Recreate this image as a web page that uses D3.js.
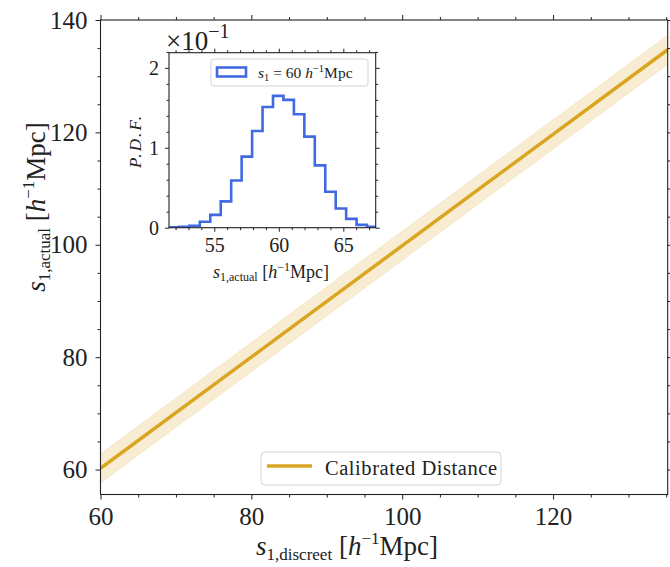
<!DOCTYPE html>
<html>
<head>
<meta charset="utf-8">
<script src="https://cdn.jsdelivr.net/npm/d3@7"></script>
<style>
  body { margin: 0; background: #fff; }
  text { font-family: "Liberation Serif", "DejaVu Serif", serif; fill: #222; }
</style>
</head>
<body>
<div id="chart"></div>
<script>
// ---- data ----
var calX = [60, 136];
var calY = [60.2, 135.5];
var calLo = [57.6, 132.9];
var calHi = [62.8, 138.1];

var histEdges = [51.45, 52.26, 53.07, 53.88, 54.69, 55.50, 56.31, 57.12, 57.93, 58.74, 59.55,
                 60.36, 61.17, 61.98, 62.79, 63.60, 64.41, 65.22, 66.03, 66.84, 67.65];
var histPdf = [0.005, 0.012, 0.025, 0.075, 0.16, 0.33, 0.59, 0.89, 1.21, 1.51,
               1.65, 1.60, 1.42, 1.14, 0.78, 0.45, 0.24, 0.11, 0.035, 0.01];

var mainXTicks = [60, 80, 100, 120];
var mainXMinor = [65, 70, 75, 85, 90, 95, 105, 110, 115, 125, 130, 135];
var mainYTicks = [60, 80, 100, 120, 140];
var mainYMinor = [65, 70, 75, 85, 90, 95, 105, 110, 115, 125, 130, 135];
var insetXTicks = [55, 60, 65];
var insetXMinor = [52, 53, 54, 56, 57, 58, 59, 61, 62, 63, 64, 66, 67];
var insetYTicks = [0, 1, 2];
var insetYMinor = [0.2, 0.4, 0.6, 0.8, 1.2, 1.4, 1.6, 1.8, 2.2];

var width = 670, height = 567;
var gold = "#DAA520", blue = "#4169E1";

var svg = d3.select("#chart").append("svg")
  .attr("width", width).attr("height", height);

// main axes box
var box = { left: 100.5, right: 667.7, top: 20, bottom: 494.5 };

var x = d3.scaleLinear().domain([60, 135.2]).range([box.left, box.right]);
var y = d3.scaleLinear().domain([55.56, 140]).range([box.bottom, box.top]);

svg.append("clipPath").attr("id", "mainClip")
  .append("rect")
  .attr("x", box.left).attr("y", box.top)
  .attr("width", box.right - box.left).attr("height", box.bottom - box.top);

var plot = svg.append("g").attr("clip-path", "url(#mainClip)");

var calData = calX.map(function (d, i) {
  return { x: d, y: calY[i], lo: calLo[i], hi: calHi[i] };
});

// uncertainty band
plot.append("path")
  .datum(calData)
  .attr("d", d3.area()
    .x(function (d) { return x(d.x); })
    .y0(function (d) { return y(d.lo); })
    .y1(function (d) { return y(d.hi); }))
  .attr("fill", gold).attr("fill-opacity", 0.2)
  .attr("stroke", gold).attr("stroke-opacity", 0.15);

// calibrated line
plot.append("path")
  .datum(calData)
  .attr("d", d3.line()
    .x(function (d) { return x(d.x); })
    .y(function (d) { return y(d.y); }))
  .attr("fill", "none").attr("stroke", gold).attr("stroke-width", 3.5);

// axes with outward ticks on all four sides
function drawAxes(g, xs, ys, b, xt, xm, yt, ym, opt) {
  g.append("g").attr("transform", "translate(0," + b.bottom + ")")
    .call(d3.axisBottom(xs).tickValues(xt).tickSize(opt.major).tickSizeOuter(0)
      .tickPadding(opt.padX).tickFormat(d3.format("d")))
    .call(styleAxis, opt.font);
  g.append("g").attr("transform", "translate(0," + b.bottom + ")")
    .call(d3.axisBottom(xs).tickValues(xm).tickSize(opt.minor).tickFormat(""))
    .call(styleAxis, opt.font);
  g.append("g").attr("transform", "translate(0," + b.top + ")")
    .call(d3.axisTop(xs).tickValues(xt).tickSize(opt.major).tickFormat(""))
    .call(styleAxis, opt.font);
  g.append("g").attr("transform", "translate(0," + b.top + ")")
    .call(d3.axisTop(xs).tickValues(xm).tickSize(opt.minor).tickFormat(""))
    .call(styleAxis, opt.font);
  g.append("g").attr("transform", "translate(" + b.left + ",0)")
    .call(d3.axisLeft(ys).tickValues(yt).tickSize(opt.major).tickSizeOuter(0)
      .tickPadding(opt.padY).tickFormat(d3.format("d")))
    .call(styleAxis, opt.font);
  g.append("g").attr("transform", "translate(" + b.left + ",0)")
    .call(d3.axisLeft(ys).tickValues(ym).tickSize(opt.minor).tickFormat(""))
    .call(styleAxis, opt.font);
  g.append("g").attr("transform", "translate(" + b.right + ",0)")
    .call(d3.axisRight(ys).tickValues(yt).tickSize(opt.major).tickFormat(""))
    .call(styleAxis, opt.font);
  g.append("g").attr("transform", "translate(" + b.right + ",0)")
    .call(d3.axisRight(ys).tickValues(ym).tickSize(opt.minor).tickFormat(""))
    .call(styleAxis, opt.font);
  g.append("rect")
    .attr("x", b.left).attr("y", b.top)
    .attr("width", b.right - b.left).attr("height", b.bottom - b.top)
    .attr("fill", "none").attr("stroke", "#222").attr("stroke-width", 1.1);
}

function styleAxis(sel, font) {
  sel.select(".domain").remove();
  sel.selectAll(".tick line").attr("stroke", "#222").attr("stroke-width", 1);
  sel.selectAll(".tick text")
    .attr("font-size", font)
    .style("font-family", "'Liberation Serif', serif")
    .attr("fill", "#222");
}

drawAxes(svg, x, y, box, mainXTicks, mainXMinor, mainYTicks, mainYMinor,
  { major: 5, minor: 3, padX: 8, padY: 8, font: 25 });

// main legend
var leg = svg.append("g");
leg.append("rect")
  .attr("x", 261).attr("y", 452).attr("width", 240).attr("height", 33)
  .attr("rx", 4).attr("fill", "#fff").attr("fill-opacity", 0.85)
  .attr("stroke", "#d4d4d4");
leg.append("line")
  .attr("x1", 267).attr("x2", 312).attr("y1", 466).attr("y2", 466)
  .attr("stroke", gold).attr("stroke-width", 3.5);
leg.append("text")
  .attr("x", 325).attr("y", 474.5)
  .attr("font-size", 20.5)
  .attr("textLength", 172).attr("lengthAdjust", "spacing")
  .text("Calibrated Distance");

// main axis labels
var xl = svg.append("text")
  .attr("x", 347).attr("y", 555)
  .attr("text-anchor", "middle").attr("font-size", 27);
xl.append("tspan").attr("font-style", "italic").text("s");
xl.append("tspan").attr("font-size", 17).attr("dy", 5).text("1,discreet");
xl.append("tspan").attr("dy", -5).text(" [");
xl.append("tspan").attr("font-style", "italic").text("h");
xl.append("tspan").attr("font-size", 17).attr("dy", -11).text("−1");
xl.append("tspan").attr("dy", 11).text("Mpc]");

var yl = svg.append("text")
  .attr("transform", "translate(45,207) rotate(-90)")
  .attr("text-anchor", "middle").attr("font-size", 27);
yl.append("tspan").attr("font-style", "italic").text("s");
yl.append("tspan").attr("font-size", 17).attr("dy", 5).text("1,actual");
yl.append("tspan").attr("dy", -5).text(" [");
yl.append("tspan").attr("font-style", "italic").text("h");
yl.append("tspan").attr("font-size", 17).attr("dy", -11).text("−1");
yl.append("tspan").attr("dy", 11).text("Mpc]");

// ---- inset histogram ----
var ib = { left: 169, right: 375.7, top: 52.7, bottom: 227.7 };
var ix = d3.scaleLinear().domain([51.49, 67.51]).range([ib.left, ib.right]);
var iy = d3.scaleLinear().domain([0, 2.19]).range([ib.bottom, ib.top]);

var inset = svg.append("g");
inset.append("rect")
  .attr("x", ib.left).attr("y", ib.top)
  .attr("width", ib.right - ib.left).attr("height", ib.bottom - ib.top)
  .attr("fill", "#fff");

inset.append("clipPath").attr("id", "insetClip")
  .append("rect")
  .attr("x", ib.left).attr("y", ib.top - 2)
  .attr("width", ib.right - ib.left).attr("height", ib.bottom - ib.top + 2);

var steps = [[histEdges[0], 0]];
histPdf.forEach(function (v, i) {
  steps.push([histEdges[i], v]);
  steps.push([histEdges[i + 1], v]);
});
steps.push([histEdges[histEdges.length - 1], 0]);

inset.append("path")
  .datum(steps)
  .attr("clip-path", "url(#insetClip)")
  .attr("d", d3.line()
    .x(function (d) { return ix(d[0]); })
    .y(function (d) { return iy(d[1]); }))
  .attr("fill", "none").attr("stroke", blue).attr("stroke-width", 2.6)
  .attr("stroke-linejoin", "miter");

drawAxes(inset, ix, iy, ib, insetXTicks, insetXMinor, insetYTicks, insetYMinor,
  { major: 4, minor: 2.5, padX: 6, padY: 6, font: 20 });

// inset legend
var il = inset.append("g");
il.append("rect")
  .attr("x", 211).attr("y", 59).attr("width", 157).attr("height", 27)
  .attr("rx", 3).attr("fill", "#fff").attr("fill-opacity", 0.85)
  .attr("stroke", "#d4d4d4");
il.append("rect")
  .attr("x", 217).attr("y", 67.5).attr("width", 29).attr("height", 9)
  .attr("fill", "none").attr("stroke", blue).attr("stroke-width", 2.6);
var ilt = il.append("text").attr("x", 258).attr("y", 78).attr("font-size", 15.5);
ilt.append("tspan").attr("font-style", "italic").text("s");
ilt.append("tspan").attr("font-size", 10.5).attr("dy", 3).text("1");
ilt.append("tspan").attr("dy", -3).text(" = 60 ");
ilt.append("tspan").attr("font-style", "italic").text("h");
ilt.append("tspan").attr("font-size", 10.5).attr("dy", -6).text("−1");
ilt.append("tspan").attr("dy", 6).text("Mpc");

// offset text ×10^-1
var off = inset.append("text").attr("x", 166).attr("y", 50).attr("font-size", 27);
off.append("tspan").text("×10");
off.append("tspan").attr("font-size", 20).attr("dy", -12).text("−1");

// inset axis labels
var ixl = inset.append("text")
  .attr("x", 271).attr("y", 278)
  .attr("text-anchor", "middle").attr("font-size", 18);
ixl.append("tspan").attr("font-style", "italic").text("s");
ixl.append("tspan").attr("font-size", 12).attr("dy", 3).text("1,actual");
ixl.append("tspan").attr("dy", -3).text(" [");
ixl.append("tspan").attr("font-style", "italic").text("h");
ixl.append("tspan").attr("font-size", 12).attr("dy", -7).text("−1");
ixl.append("tspan").attr("dy", 7).text("Mpc]");

inset.append("text")
  .attr("transform", "translate(141,142) rotate(-90)")
  .attr("text-anchor", "middle").attr("font-size", 17)
  .attr("font-style", "italic")
  .attr("textLength", 52).attr("lengthAdjust", "spacing")
  .text("P.D.F.");
</script>
</body>
</html>
